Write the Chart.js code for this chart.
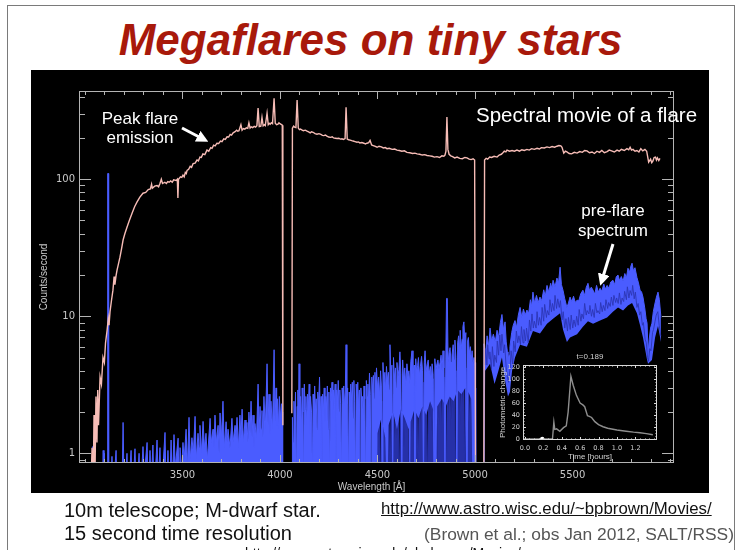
<!DOCTYPE html>
<html>
<head>
<meta charset="utf-8">
<script src="https://cdn.jsdelivr.net/npm/chart.js@4"></script>
<style>
  html, body { margin: 0; padding: 0; }
  body { width: 741px; height: 550px; overflow: hidden; position: relative; background: #fff;
         font-family: "Liberation Sans", Arial, sans-serif; }
  .abs { position: absolute; white-space: nowrap; }
  #frame { position: absolute; left: 7px; top: 5px; width: 726px; height: 600px; border: 1px solid #7a7a7a; }
  #title { left: 0; width: 741px; top: 18px; text-align: center; font: italic bold 44px/44px "Liberation Sans", Arial, sans-serif; color: #a8190b; }
  #plotbg { position: absolute; left: 31px; top: 70px; width: 678px; height: 423px; background: #000; }
  canvas { position: absolute; left: 0; top: 0; }
  .note { color: #fff; text-align: center; }
  .foot { font-size: 20px; line-height: 20px; color: #111; }
</style>
</head>
<body>
<div id="frame"></div>
<div class="abs" id="title">Megaflares on tiny stars</div>
<div id="plotbg"></div>
<canvas id="spectrum" width="741" height="550"></canvas>
<canvas id="lightcurve" width="741" height="550"></canvas>
<svg class="abs" style="left:0;top:0" width="741" height="550">
  <defs>
    <marker id="head" markerWidth="4" markerHeight="4" refX="2" refY="2" orient="auto" markerUnits="strokeWidth">
      <path d="M0,0 L4,2 L0,4 z" fill="#fff"/>
    </marker>
  </defs>
  <line x1="182" y1="128" x2="203" y2="139" stroke="#fff" stroke-width="3" marker-end="url(#head)"/>
  <line x1="613" y1="244" x2="602" y2="280" stroke="#fff" stroke-width="3" marker-end="url(#head)"/>
</svg>
<div class="abs note" style="left:90px;width:100px;top:109px;font-size:17px;line-height:19px">Peak flare<br>emission</div>
<div class="abs note" style="left:476px;top:105px;font-size:20.5px;line-height:20px;text-align:left">Spectral movie of a flare</div>
<div class="abs note" style="left:563px;width:100px;top:201px;font-size:17px;line-height:20px">pre-flare<br>spectrum</div>
<div class="abs foot" style="left:64px;top:500px">10m telescope; M-dwarf star.</div>
<div class="abs foot" style="left:64px;top:523px">15 second time resolution</div>
<div class="abs" style="left:381px;top:501px;font-size:16.8px;line-height:16.5px;color:#111;text-decoration:underline">http://www.astro.wisc.edu/~bpbrown/Movies/</div>
<div class="abs" style="left:424px;top:526px;font-size:17.4px;line-height:17px;color:#555">(Brown et al.; obs Jan 2012, SALT/RSS)</div>
<div class="abs" style="left:245px;top:546px;font-size:14px;line-height:14px;color:#111">http://www.astro.wisc.edu/~bpbrown/Movies/</div>

<script>
// axis labels
const xMajor = [3500, 4000, 4500, 5000, 5500];
const xLabels = ['3500', '4000', '4500', '5000', '5500'];
const yMajor = [1, 10, 100];
const yLabels = ['1', '10', '100'];

// [wavelength (A), counts/s] -- flare peak spectrum
const flareSpectrum = [
  [3030,0.5],[3037,1.1],[3043,0.6],[3047,1.9],[3052,0.7],[3057,2.6],[3062,1.2],[3066,2.9],[3070,1.6],
  [3078,3.6],[3085,3.2],[3093,5.0],[3100,4.6],[3106,6.4],[3114,7.9],[3120,9.6],[3124,8.6],[3129,10.8],
  [3137,13.2],[3144,15.5],[3150,19.5],[3154,17.0],[3160,19.8],[3165,21.7],[3172,24],[3180,27],[3188,31],
  [3196,36],[3205,40],[3216,44.6],[3228,50],[3242,56.5],[3255,63],[3267,68],[3282,74],[3298,79],[3312,80],
  [3325,84],[3336,85],[3342,92],[3346,86],[3358,89],[3370,90],[3378,88],[3385,93],[3392,100],[3398,93],
  [3410,95],[3418,93],[3425,96],[3432,95],[3440,97],[3448,95],[3455,99],[3468,98],[3474,100],[3477,73],
  [3480,100],[3490,104],[3497,103],[3503,107],[3509,104],[3515,112],[3520,110],[3524,116],[3532,118],
  [3540,124],[3547,122],[3555,130],[3565,131],[3575,138],[3582,136],[3590,145],[3597,144],[3605,153],
  [3615,151],[3626,163],[3635,160],[3645,170],[3652,168],[3660,177],[3668,175],[3677,183],[3686,182],
  [3695,190],[3703,188],[3712,197],[3720,195],[3729,204],[3737,203],[3745,212],[3752,210],[3760,218],
  [3770,222],[3778,228],[3784,224],[3790,226],[3800,250],[3806,228],[3813,234],[3820,232],[3828,237],
  [3835,235],[3841,258],[3847,236],[3853,241],[3860,238],[3868,243],[3875,240],[3882,246],[3888,330],
  [3894,242],[3902,244],[3908,282],[3914,245],[3920,250],[3925,246],[3934,303],[3940,250],[3945,256],
  [3950,252],[3956,258],[3962,254],[3970,390],[3976,256],[3983,250],[3990,252],[3995,258],[4000,254],
  [4008,250],[4012,248],[4015,1.6],[4040,null],[4061,1.96],[4064,236],[4070,244],[4075,240],[4082,238],
  [4088,378],[4094,236],[4100,230],[4105,232],[4112,229],[4120,226],[4130,228],[4139,224],[4147,221],
  [4155,218],[4162,222],[4170,220],[4180,215],[4190,213],[4200,215],[4210,212],[4218,209],[4225,208],
  [4233,210],[4241,206],[4250,203],[4260,202],[4268,204],[4275,200],[4284,199],[4293,198],[4302,199],
  [4310,196],[4318,197],[4325,195],[4334,198],[4339,335],[4345,196],[4352,194],[4360,193],[4368,191],
  [4375,190],[4385,188],[4395,186],[4402,187],[4410,184],[4420,185],[4430,183],[4438,181],[4446,183],
  [4455,185],[4462,192],[4470,178],[4478,176],[4486,174],[4498,171],[4508,174],[4520,172],[4530,169],
  [4540,170],[4549,167],[4560,168],[4575,165],[4588,166],[4600,163],[4612,162],[4625,160],[4638,161],
  [4651,157],[4666,156],[4680,154],[4692,155],[4703,153],[4716,152],[4730,150],[4742,151],[4754,149],
  [4768,148],[4780,147],[4792,145],[4805,146],[4818,144],[4830,148],[4840,147],[4846,150],[4851,160],
  [4856,284],[4861,165],[4867,152],[4876,148],[4885,146],[4896,143],[4908,145],[4922,142],[4935,141],
  [4948,144],[4959,143],[4970,140],[4980,139],[4990,141],[4998,138],[5003,0.5],[5025,null],[5045,0.5],
  [5049,138],[5057,142],[5065,140],[5075,145],[5085,144],[5098,147],[5113,145],[5124,150],[5135,152],
  [5143,156],[5150,160],[5158,158],[5164,163],[5177,160],[5190,162],[5202,160],[5215,163],[5228,160],
  [5240,164],[5253,162],[5266,165],[5278,163],[5290,167],[5304,165],[5318,168],[5330,166],[5340,170],
  [5355,169],[5369,172],[5382,170],[5395,173],[5408,171],[5420,174],[5430,176],[5440,175],[5446,171],
  [5455,155],[5463,160],[5471,158],[5483,154],[5495,153],[5509,157],[5523,155],[5537,159],[5550,157],
  [5562,162],[5574,161],[5587,156],[5600,158],[5612,154],[5625,160],[5638,157],[5650,162],[5663,156],
  [5677,159],[5688,163],[5700,161],[5714,158],[5728,163],[5739,160],[5750,165],[5765,162],[5779,167],
  [5788,164],[5795,171],[5802,163],[5810,165],[5820,160],[5830,162],[5840,158],[5850,167],[5860,161],
  [5871,165],[5880,160],[5890,133],[5900,140],[5906,132],[5912,136],[5918,144],[5925,145],[5930,138],
  [5935,143],[5942,137],[5948,142]
];

// pre-flare spectrum, upper edge of the noisy trace
const preFlareTop = [
  [3030,0.5],[3036,0.5],[3040,1.12],[3044,0.5],[3049,1.05],[3053,0.5],[3090,0.5],[3094,1.05],[3098,0.5],
  [3100,1.0],[3104,0.5],[3116,0.5],[3117,110],[3121,110],[3122,0.5],[3132,0.5],[3139,0.95],[3145,0.5],
  [3160,1.05],[3166,0.5],[3190,0.5],[3196,1.68],[3202,0.5],[3216,1.0],[3222,0.5],[3237,1.05],[3244,0.5],
  [3257,1.08],[3264,0.5],[3278,1.0],[3285,0.5],[3298,1.12],[3305,0.7],[3319,1.2],[3326,0.5],[3334,1.05],
  [3340,0.6],[3349,1.15],[3355,0.5],[3370,1.25],[3377,0.6],[3385,1.1],[3392,0.5],[3411,1.42],[3417,0.5],
  [3426,1.05],[3434,0.5],[3442,1.25],[3448,0.6],[3457,1.37],[3464,0.8],[3478,1.29],[3484,0.5],[3488,1.1],
  [3495,0.7],[3503,1.2],[3509,0.9],[3519,1.5],[3526,0.8],[3534,1.83],[3540,0.9],[3549,1.3],[3556,1.0],
  [3565,1.86],[3571,0.9],[3580,1.4],[3586,1.1],[3590,1.6],[3598,1.0],[3606,1.71],[3613,1.1],[3621,1.4],
  [3628,0.9],[3642,1.8],[3648,1.2],[3657,1.5],[3662,1.1],[3667,1.9],[3674,1.2],[3683,1.6],[3688,1.0],
  [3693,1.97],[3700,1.3],[3708,2.4],[3715,1.1],[3724,1.7],[3729,1.2],[3734,1.5],[3744,1.1],[3754,1.8],
  [3760,1.2],[3770,1.6],[3775,1.3],[3780,1.83],[3787,1.1],[3795,1.9],[3800,1.3],[3806,2.1],[3813,1.2],
  [3821,1.75],[3826,1.4],[3831,1.68],[3836,1.2],[3841,2.0],[3847,1.4],[3852,2.4],[3857,1.3],[3862,1.9],
  [3867,1.1],[3872,1.65],[3880,1.3],[3888,3.2],[3893,1.4],[3898,2.2],[3903,1.5],[3908,2.05],[3913,1.3],
  [3918,2.6],[3925,1.5],[3934,4.5],[3939,1.6],[3944,2.7],[3949,1.4],[3954,2.4],[3962,1.5],[3970,5.7],
  [3975,1.7],[3980,3.0],[3983,1.6],[3988,2.5],[3992,1.5],[3997,2.6],[4002,1.8],[4008,2.3],[4012,2.0],
  [4014,0.5],[4040,null],[4062,0.5],[4064,1.83],[4068,1.2],[4072,2.4],[4076,1.6],[4080,2.8],[4084,0.5],
  [4088,2.2],[4092,2.9],[4095,1.7],[4098,4.5],[4102,1.9],[4106,2.6],[4110,1.4],[4114,3.0],[4118,2.0],
  [4121,0.5],[4125,3.2],[4129,2.1],[4133,2.6],[4137,1.6],[4141,2.7],[4146,2.2],[4150,3.2],[4153,1.4],
  [4157,2.6],[4162,2.0],[4166,0.6],[4170,2.7],[4174,1.9],[4178,3.1],[4182,2.1],[4186,2.5],[4190,1.5],
  [4194,2.8],[4198,2.2],[4203,3.6],[4207,1.8],[4211,2.6],[4215,0.5],[4219,2.7],[4223,2.0],[4227,3.0],
  [4231,1.7],[4235,2.6],[4239,2.2],[4243,3.1],[4247,1.5],[4251,2.8],[4255,0.6],[4259,3.0],[4263,2.4],
  [4267,3.3],[4271,1.8],[4275,2.9],[4279,2.3],[4283,3.2],[4287,0.5],[4291,2.9],[4295,2.4],[4299,3.4],
  [4303,2.0],[4307,2.9],[4311,2.3],[4315,0.6],[4319,3.0],[4323,2.4],[4327,3.1],[4331,2.2],[4335,2.8],
  [4339,6.2],[4343,2.3],[4347,3.0],[4351,0.5],[4355,2.8],[4359,2.2],[4363,3.2],[4367,2.4],[4371,3.3],
  [4375,1.8],[4379,3.4],[4383,2.4],[4387,0.5],[4391,3.2],[4395,2.6],[4399,3.3],[4403,2.2],[4407,2.9],
  [4411,0.6],[4415,3.0],[4419,2.4],[4423,2.6],[4427,1.9],[4431,3.1],[4435,2.5],[4439,0.5],[4443,3.4],
  [4447,2.6],[4451,3.2],[4455,2.3],[4459,3.85],[4463,2.7],[4467,0.5],[4471,3.6],[4475,2.8],[4479,3.7],
  [4483,2.5],[4487,3.9],[4491,2.9],[4495,4.2],[4500,3.0],[4506,3.6],[4511,2.6],[4516,4.0],[4520,3.1],
  [4524,0.6],[4528,4.6],[4533,3.2],[4538,3.9],[4542,2.8],[4546,4.3],[4551,3.4],[4556,3.9],[4560,2.9],
  [4564,6.2],[4569,3.6],[4574,4.4],[4578,0.6],[4582,5.0],[4587,3.5],[4592,4.2],[4596,3.0],[4600,4.6],
  [4605,3.6],[4610,4.1],[4615,5.5],[4620,3.8],[4625,0.6],[4629,4.8],[4634,3.4],[4640,4.2],[4645,3.1],
  [4651,4.5],[4656,3.6],[4661,4.0],[4666,3.2],[4671,4.7],[4677,5.6],[4682,3.8],[4688,4.4],[4692,0.6],
  [4696,4.9],[4701,3.9],[4706,4.4],[4710,5.0],[4715,3.7],[4720,4.3],[4726,5.1],[4731,4.0],[4736,0.6],
  [4740,4.6],[4744,5.6],[4749,3.9],[4754,4.4],[4760,4.8],[4765,3.8],[4771,4.3],[4776,3.4],[4780,4.5],
  [4785,3.8],[4790,0.6],[4794,4.9],[4799,4.0],[4805,4.5],[4810,4.8],[4815,4.1],[4821,4.6],[4826,5.2],
  [4831,4.0],[4836,5.6],[4841,4.2],[4846,0.6],[4850,4.8],[4854,13.5],[4858,13.5],[4862,4.6],[4867,5.4],
  [4872,5.9],[4877,4.6],[4882,5.2],[4888,6.2],[4893,4.8],[4897,6.7],[4902,5.0],[4907,0.6],[4911,6.4],
  [4916,7.2],[4920,5.4],[4924,7.9],[4929,5.8],[4934,6.8],[4938,8.4],[4943,9.1],[4948,6.5],[4953,7.6],
  [4958,0.5],[4962,6.6],[4966,7.0],[4971,5.4],[4976,6.0],[4981,4.8],[4985,5.6],[4990,4.5],[4995,5.0],
  [5000,4.0],[5002,4.6],[5004,0.5],[5025,null],[5044,0.5],[5046,6.3],[5054,5.2],[5062,7.2],[5070,6.0],
  [5077,8.2],[5085,6.6],[5094,7.4],[5104,6.5],[5113,7.9],[5121,7.0],[5130,9.0],[5138,10.3],[5146,8.0],
  [5154,9.1],[5160,6.5],[5166,5.5],[5169,4.8],[5175,5.2],[5179,6.0],[5188,7.6],[5196,8.6],[5205,9.3],
  [5213,8.3],[5222,10.2],[5231,11.6],[5240,9.8],[5248,11.3],[5257,10.2],[5266,11.1],[5275,10.5],
  [5284,13.2],[5290,11.8],[5297,15],[5305,12.5],[5315,14.2],[5324,12.6],[5333,13.8],[5342,13.0],
  [5352,15.6],[5360,14.0],[5369,16.8],[5378,15.0],[5388,17.4],[5394,15.8],[5400,18.3],[5410,16.4],
  [5420,19.0],[5428,17.5],[5436,22.8],[5443,17.0],[5451,15.5],[5460,13.4],[5471,11.6],[5479,12.5],
  [5487,13.8],[5496,12.8],[5505,14.0],[5514,12.6],[5523,13.1],[5532,13.0],[5542,14.6],[5553,15.5],
  [5562,14.2],[5570,16.2],[5579,17.4],[5587,15.4],[5596,16.3],[5605,15.5],[5614,14.5],[5623,16.8],
  [5632,15.0],[5641,16.0],[5650,15.2],[5660,17.2],[5668,15.8],[5677,16.8],[5686,16.0],[5696,17.8],
  [5707,18.3],[5716,17.0],[5724,19.4],[5733,20],[5741,18.2],[5750,19.5],[5759,18],[5768,20.5],[5776,19.0],
  [5784,22.4],[5792,21],[5800,23.5],[5805,24.4],[5812,21.5],[5820,22.6],[5830,19.2],[5838,17.5],
  [5846,15.5],[5854,15.0],[5861,13.8],[5870,11.5],[5877,9.6],[5882,8.9],[5887,5.3],[5893,6.8],[5900,8.2],
  [5907,8.9],[5914,10.8],[5923,12.5],[5930,13.8],[5938,15],[5945,13.2],[5953,9.8]
];

// lower edge of the bright pre-flare band
const preFlareBase = [
  [3030,0.5],[4498,0.5],[4500,1.4],[4520,1.8],[4540,1.3],[4548,0.5],[4552,0.5],[4556,1.6],[4580,2.0],
  [4600,1.5],[4620,2.1],[4640,1.8],[4660,1.5],[4664,0.5],[4667,0.5],[4670,1.7],[4690,2.1],[4710,1.8],
  [4730,2.2],[4750,1.9],[4770,2.4],[4790,2.0],[4798,0.5],[4801,0.5],[4806,2.2],[4830,2.5],[4850,2.2],
  [4870,2.6],[4890,2.4],[4910,2.9],[4930,2.7],[4950,3.0],[4956,0.5],[4960,0.5],[4966,2.8],[4980,2.5],
  [4988,0.5],[5004,0.5],[5025,null],[5044,0.5],[5048,0.5],[5052,4.0],[5077,4.5],[5100,3.2],[5120,4.0],
  [5138,5.0],[5154,3.4],[5169,2.6],[5179,2.8],[5190,4.0],[5205,5.0],[5231,6.2],[5266,6.0],[5297,7.8],
  [5333,7.5],[5369,8.8],[5400,9.6],[5436,10.5],[5451,8.0],[5471,6.5],[5487,7.0],[5523,7.4],[5553,8.4],
  [5579,9.2],[5605,8.8],[5641,9.3],[5677,9.8],[5707,10.8],[5733,11.6],[5759,11.0],[5784,12.0],[5805,12.5],
  [5830,10.5],[5846,8.6],[5861,7.0],[5882,4.8],[5887,4.5],[5907,4.8],[5923,7.0],[5938,8.5],[5953,6.5]
];

// darker overlapping exposures below the band
const preFlareDeep = [
  [4480,0.5],[4486,1.8],[4492,1.0],[4498,2.1],[4504,1.1],[4510,2.2],[4516,0.5],[4522,2.4],[4528,1.2],
  [4534,2.0],[4540,1.0],[4546,2.6],[4552,1.3],[4558,2.4],[4564,0.5],[4570,2.2],[4576,1.2],[4582,2.7],
  [4588,1.0],[4594,2.5],[4600,1.3],[4606,2.3],[4612,0.5],[4618,2.6],[4624,1.2],[4630,2.8],[4636,1.1],
  [4642,2.6],[4648,1.4],[4654,3.0],[4660,0.5],[4666,2.7],[4672,1.3],[4678,2.9],[4684,1.1],[4690,3.1],
  [4696,1.5],[4702,2.8],[4708,0.5],[4714,3.0],[4720,1.4],[4726,3.2],[4732,1.2],[4738,3.3],[4744,1.6],
  [4750,3.0],[4756,0.5],[4762,3.4],[4768,1.5],[4774,3.6],[4780,1.3],[4786,3.5],[4792,1.8],[4798,3.8],
  [4804,0.5],[4810,4.0],[4816,1.6],[4822,3.9],[4828,1.4],[4834,4.2],[4840,1.9],[4846,3.6],[4852,0.5],
  [4858,3.4],[4864,1.7],[4870,3.8],[4876,1.5],[4882,4.0],[4888,1.9],[4894,4.2],[4900,0.5],[4906,4.0],
  [4912,1.8],[4918,4.4],[4924,1.6],[4930,4.1],[4936,2.0],[4942,4.5],[4948,0.5],[4954,4.2],[4960,1.9],
  [4966,4.0],[4972,1.5],[4978,3.6],[4984,0.5],[4990,3.2],[4996,1.2],[5002,3.0],[5004,0.5]
];

// darker streaks inside the red part of the band
const preFlareStreaks = [
  [5050,4.4],[5055,5.8],[5061,4.4],[5065,6.2],[5072,4.9],[5076,5.5],[5084,4.1],[5089,6.0],[5097,4.3],
  [5101,5.2],[5110,4.6],[5114,6.6],[5121,5.2],[5127,7.3],[5133,5.6],[5138,7.4],[5147,5.4],[5152,6.2],
  [5160,4.2],[5166,3.6],[5172,3.3],[5180,4.2],[5185,5.6],[5193,4.4],[5198,6.6],[5206,5.5],[5212,7.8],
  [5219,6.4],[5225,7.2],[5233,6.2],[5238,8.4],[5246,6.4],[5251,8.0],[5259,6.6],[5264,8.2],[5273,6.4],
  [5279,9.4],[5286,7.8],[5292,10.4],[5299,8.2],[5304,9.2],[5313,8.2],[5318,10.8],[5325,8.6],[5331,9.8],
  [5339,8.6],[5344,11.6],[5352,9.2],[5357,12.2],[5366,9.8],[5371,11.0],[5379,10.2],[5384,13.2],
  [5392,10.8],[5397,12.4],[5405,11.0],[5410,14.2],[5418,11.4],[5424,13.4],[5432,11.6],[5438,13.0],
  [5446,9.4],[5452,10.8],[5460,8.2],[5466,9.6],[5474,7.8],[5479,9.8],[5488,8.0],[5493,10.2],[5501,8.2],
  [5507,9.4],[5515,8.4],[5521,10.0],[5529,8.6],[5534,11.2],[5543,9.2],[5548,10.4],[5556,9.6],[5562,12.4],
  [5570,10.2],[5575,11.0],[5584,10.4],[5589,12.0],[5597,10.0],[5603,11.2],[5611,9.8],[5617,12.4],
  [5625,10.6],[5630,11.0],[5639,10.4],[5644,12.6],[5652,10.8],[5658,12.0],[5666,11.0],[5671,13.2],
  [5680,11.4],[5685,12.6],[5693,11.8],[5699,13.8],[5707,12.0],[5712,14.2],[5721,12.6],[5726,13.6],
  [5734,12.4],[5740,14.8],[5748,12.2],[5754,13.6],[5762,12.8],[5767,15.2],[5776,13.2],[5781,16.4],
  [5789,13.6],[5795,15.4],[5803,14.2],[5808,16.8],[5816,13.4],[5822,15.0],[5830,11.6],[5836,12.4],
  [5844,10.2],[5850,10.8],[5858,8.6],[5863,9.0],[5872,6.8],[5878,6.4],[5884,5.0],[5889,4.7],[5896,5.8],
  [5902,5.6],[5910,7.6],[5915,8.0],[5923,9.2],[5929,10.2],[5937,10.8],[5944,8.6],[5952,7.2]
];

// inset light curve
const lcTime = [-0.02, 0.1, 0.2, 0.30, 0.315, 0.325, 0.345, 0.38, 0.42, 0.45, 0.47, 0.49, 0.50, 0.525,
  0.56, 0.60, 0.63, 0.65, 0.68, 0.70, 0.725, 0.76, 0.80, 0.85, 0.90, 1.0, 1.10, 1.18, 1.25, 1.32, 1.39];
const lcChange = [0, 0, 0, 0, 28, 16, 17, 13, 19, 22, 45, 85, 105, 90, 73, 60, 57, 54, 39, 38, 36, 29,
  24, 20.5, 18, 15, 13, 11.5, 10.5, 9, 7];
const nowTime = [0.189];
const nowChange = [0];
const lcXTicks = [0, 0.2, 0.4, 0.6, 0.8, 1.0, 1.2];
const lcXLabels = ['0.0', '0.2', '0.4', '0.6', '0.8', '1.0', '1.2'];
const lcYTicks = [0, 20, 40, 60, 80, 100, 120];
const lcYLabels = ['0', '20', '40', '60', '80', '100', '120'];

const toPoints = pairs => pairs.map(([x, y]) => ({ x, y }));
const near = (list, v) => list.some(m => Math.abs(m - v) < 1e-6);

// IDL-style box with inward ticks on all four sides
const idlAxes = {
  id: 'idlAxes',
  afterDraw(chart, args, o) {
    const { ctx, chartArea: a, scales: { x, y } } = chart;
    ctx.save();
    ctx.strokeStyle = o.color;
    ctx.lineWidth = 1;
    ctx.strokeRect(a.left + 0.5, a.top + 0.5, a.width - 1, a.height - 1);
    ctx.beginPath();
    o.xMinor.forEach(v => {
      const px = Math.round(x.getPixelForValue(v)) + 0.5;
      const len = near(o.xMajor, v) ? o.xLen[0] : o.xLen[1];
      ctx.moveTo(px, a.top); ctx.lineTo(px, a.top + len);
      ctx.moveTo(px, a.bottom); ctx.lineTo(px, a.bottom - len);
    });
    o.yMinor.forEach(v => {
      const py = Math.round(y.getPixelForValue(v)) + 0.5;
      const len = near(o.yMajor, v) ? o.yLen[0] : o.yLen[1];
      ctx.moveTo(a.left, py); ctx.lineTo(a.left + len, py);
      ctx.moveTo(a.right, py); ctx.lineTo(a.right - len, py);
    });
    ctx.stroke();

    ctx.fillStyle = o.labelColor;
    ctx.font = o.tickFont;
    ctx.textAlign = 'center';
    ctx.textBaseline = 'middle';
    o.xMajor.forEach((v, i) => ctx.fillText(o.xLabels[i], x.getPixelForValue(v), a.bottom + o.xLabelGap));
    ctx.textAlign = 'right';
    o.yMajor.forEach((v, i) => ctx.fillText(o.yLabels[i], a.left - o.yLabelGap, y.getPixelForValue(v)));

    ctx.font = o.titleFont;
    ctx.textAlign = 'center';
    const cx = (a.left + a.right) / 2;
    ctx.fillText(o.xTitle, cx + o.xTitleShift, a.bottom + o.xTitleGap);
    if (o.title) ctx.fillText(o.title, cx, a.top - o.titleGap);
    ctx.translate(a.left - o.yTitleGap, (a.top + a.bottom) / 2);
    ctx.rotate(-Math.PI / 2);
    ctx.fillText(o.yTitle, 0, 0);
    ctx.restore();
  }
};

const specXMinor = [];
for (let v = 3000; v <= 6000; v += 100) specXMinor.push(v);
const specYMinor = [0.9];
[1, 10, 100].forEach(d => { for (let k = 1; k <= 9; k++) if (d * k < 440) specYMinor.push(d * k); });

new Chart(document.getElementById('spectrum'), {
  type: 'line',
  data: {
    datasets: [
      { label: 'Peak flare emission', data: toPoints(flareSpectrum), borderColor: '#f6bcb6', borderWidth: 1.4, order: 0 },
      { label: 'streaks', data: toPoints(preFlareStreaks), borderColor: '#2b35b4', borderWidth: 0.9, order: 1 },
      { label: 'pre-flare spectrum', data: toPoints(preFlareTop), borderColor: '#4a5cff', backgroundColor: '#4a5cff',
        borderWidth: 1, fill: 3, order: 2 },
      { label: 'base', data: toPoints(preFlareBase), borderColor: 'rgba(0,0,0,0)', borderWidth: 0, order: 3 },
      { label: 'deep', data: toPoints(preFlareDeep), borderColor: '#2630a8', backgroundColor: '#2630a8',
        borderWidth: 1, fill: 'start', order: 4 }
    ]
  },
  options: {
    responsive: false,
    animation: false,
    events: [],
    layout: { padding: { left: 79, top: 91, right: 67, bottom: 87 } },
    elements: { point: { radius: 0 }, line: { tension: 0 } },
    plugins: {
      legend: { display: false },
      tooltip: { enabled: false },
      idlAxes: {
        color: '#b4b4b4', labelColor: '#c8c8c8',
        tickFont: '10px "DejaVu Sans"', titleFont: '10px "Liberation Sans"',
        xMinor: specXMinor, xMajor, xLabels, xLen: [8, 4],
        yMinor: specYMinor, yMajor, yLabels, yLen: [12, 6],
        xLabelGap: 12, yLabelGap: 4,
        xTitle: 'Wavelength [Å]', xTitleGap: 24, xTitleShift: -5,
        yTitle: 'Counts/second', yTitleGap: 35
      }
    },
    scales: {
      x: { type: 'linear', min: 2970, max: 6020, display: false },
      y: { type: 'logarithmic', min: 0.85, max: 440, display: false }
    }
  },
  plugins: [idlAxes]
});

const lcXMinor = [];
for (let k = 0; k <= 28; k++) lcXMinor.push(k * 0.05);
const lcYMinor = [];
for (let k = 0; k <= 24; k++) lcYMinor.push(k * 5);

new Chart(document.getElementById('lightcurve'), {
  type: 'line',
  data: {
    datasets: [
      { label: 'now', data: nowTime.map((t, i) => ({ x: t, y: nowChange[i] })), showLine: false,
        pointRadius: 2.2, pointBackgroundColor: '#fff', pointBorderWidth: 0, order: 0 },
      { label: 'Photometric change', data: lcTime.map((t, i) => ({ x: t, y: lcChange[i] })),
        borderColor: '#8e8e8e', borderWidth: 1.4, pointRadius: 0, order: 1 }
    ]
  },
  options: {
    responsive: false,
    animation: false,
    events: [],
    layout: { padding: { left: 523, top: 365, right: 84, bottom: 110 } },
    elements: { line: { tension: 0 } },
    plugins: {
      legend: { display: false },
      tooltip: { enabled: false },
      idlAxes: {
        color: '#d8d8d8', labelColor: '#d0d0d0',
        tickFont: '6.5px "DejaVu Sans"', titleFont: '8px "Liberation Sans"',
        xMinor: lcXMinor, xMajor: lcXTicks, xLabels: lcXLabels, xLen: [3, 1.5],
        yMinor: lcYMinor, yMajor: lcYTicks, yLabels: lcYLabels, yLen: [3, 1.5],
        xLabelGap: 8, yLabelGap: 3,
        xTitle: 'Time [hours]', xTitleGap: 17, xTitleShift: 0,
        yTitle: 'Photometric change', yTitleGap: 20,
        title: 't=0.189', titleGap: 8
      }
    },
    scales: {
      x: { type: 'linear', min: -0.02, max: 1.435, display: false },
      y: { type: 'linear', min: -1.7, max: 123.8, display: false }
    }
  },
  plugins: [idlAxes]
});
</script>
</body>
</html>
